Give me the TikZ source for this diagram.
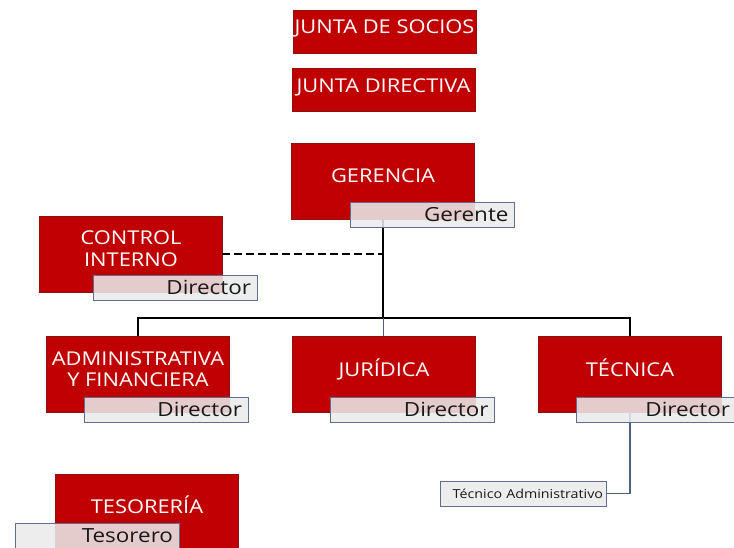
\documentclass[tikz,border=0pt]{standalone}
\usepackage{fontspec}
\setmainfont{Open Sans}[FakeStretch=1.15]
\definecolor{boxred}{HTML}{C00000}
\definecolor{boxedge}{HTML}{8E1010}
\definecolor{lblfill}{HTML}{EBEBEB}
\definecolor{lbledge}{HTML}{5F6E8C}
\definecolor{slate}{HTML}{4F5F80}
\tikzset{
  redbox/.style={draw=boxedge, line width=0.6pt, fill=boxred, minimum width=183pt, minimum height=76pt, inner sep=0pt},
  smallred/.style={redbox, minimum height=43pt},
  redtxt/.style={text=white, font=\fontsize{19}{21.5}\selectfont, inner sep=0pt, align=center},
  lblbox/.style={draw=lbledge, line width=0.8pt, fill=lblfill, fill opacity=0.87, text opacity=1,
     text=black!90, font=\fontsize{19.5}{21}\selectfont, minimum height=25pt, inner ysep=0pt,
     inner xsep=6pt, text width=152pt, align=right},
  tree/.style={line width=1.6pt, black},
  dashline/.style={line width=1.3pt, dashed, dash pattern=on 8pt off 4pt},
  subline/.style={line width=1.6pt, slate}
}
\begin{document}
\begin{tikzpicture}[x=1pt,y=-1pt]
\useasboundingbox (0,0) rectangle (734,547);
\clip (0,0) rectangle (734,547);
\fill[white] (0,0) rectangle (734,547);

% red boxes
\node[smallred] (socios) at (384.5,31.5) {};
\node[smallred] (directiva) at (383.5,89.5) {};
\node[redbox] (gerencia) at (383,181) {};
\node[redbox] (control) at (130.5,254) {};
\node[redbox] (admin) at (138,374) {};
\node[redbox] (juridica) at (384,374) {};
\node[redbox] (tecnica) at (630,374) {};
\node[redbox] (tesoreria) at (147,512) {};

% connectors
\coordinate (bus) at (383,318);
\draw[tree] (gerencia.south -| bus) -- (bus);
\draw[tree] (admin.north) |- (bus) -| (tecnica.north);
\draw[subline, line width=1pt] (bus) -- (bus |- juridica.north);
\draw[dashline] (control.east) -- (control.east -| bus);
\node[lblbox, text width=160pt, inner xsep=3pt, font=\fontsize{12.4}{13}\selectfont] (tecadm) at (523,493.5) {Técnico Administrativo};
\draw[subline] (tecnica.south) |- (tecadm.east);

% red box texts
\node[redtxt, anchor=base] (tsocios) at (384.5,33) {JUNTA DE SOCIOS};
\node[redtxt, anchor=base] (tdirectiva) at (383.5,92) {JUNTA DIRECTIVA};
\node[redtxt, anchor=base] (tgerencia) at (383,182) {GERENCIA};
\node[redtxt, anchor=north] (tcontrol) at (131,230.7) {CONTROL\\INTERNO};
\node[redtxt, anchor=north] (tadmin) at (138,351.5) {ADMINISTRATIVA\\Y FINANCIERA};
\node[redtxt, anchor=base] (tjuridica) at (384,376) {JURÍDICA};
\node[redtxt, anchor=base] (ttecnica) at (630,376) {TÉCNICA};
\node[redtxt, anchor=base] (ttesoreria) at (147,513) {TESORERÍA};

% labels
\node[lblbox] (lgerente) at (432.5,215) {Gerente};
\node[lblbox] (lcontrol) at (175,287.5) {Director};
\node[lblbox] (ladmin) at (166,409.5) {Director};
\node[lblbox] (ljuridica) at (412.5,409.5) {Director};
\node[lblbox] (ltecnica) at (658,409.5) {Director\hspace*{4pt}};
\node[lblbox] (ltesoreria) at (97,536) {Tesorero};
\end{tikzpicture}
\end{document}
